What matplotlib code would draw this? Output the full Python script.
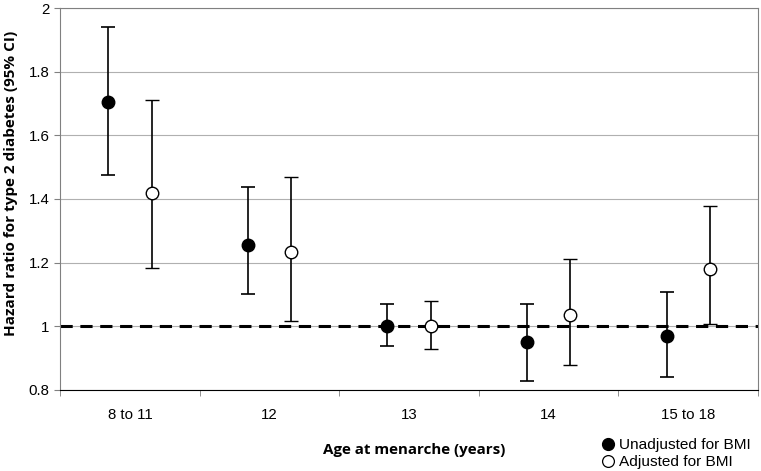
import matplotlib
matplotlib.use("Agg")
import matplotlib.pyplot as plt
from matplotlib.lines import Line2D
import numpy as np

plt.rcParams['font.family'] = ['Liberation Sans', 'DejaVu Sans']

categories = ['8 to 11', '12', '13', '14', '15 to 18']

unadj_hr = [1.705, 1.255, 1.00, 0.952, 0.970]
unadj_lo = [1.475, 1.100, 0.938, 0.828, 0.840]
unadj_hi = [1.940, 1.438, 1.070, 1.070, 1.108]

adj_hr = [1.420, 1.232, 1.00, 1.036, 1.180]
adj_lo = [1.182, 1.018, 0.928, 0.880, 1.008]
adj_hi = [1.710, 1.470, 1.078, 1.210, 1.378]

fig = plt.figure(figsize=(7.61, 4.71), dpi=100)
ax = fig.add_axes([0.079, 0.172, 0.917, 0.811])

x = np.arange(len(categories))
off = 0.155

ax.axhline(1.0, color='black', lw=2.2, ls=(0, (4, 2.5)), zorder=2)

un = np.array(unadj_hr)
ad = np.array(adj_hr)
ax.errorbar(x - off, un, yerr=[un - np.array(unadj_lo), np.array(unadj_hi) - un],
            fmt='o', ms=9, mfc='black', mec='black', ecolor='black',
            elinewidth=1.2, capsize=5, capthick=1.2, zorder=3)
ax.errorbar(x + off, ad, yerr=[ad - np.array(adj_lo), np.array(adj_hi) - ad],
            fmt='o', ms=9, mfc='white', mec='black', mew=1.0, ecolor='black',
            elinewidth=1.2, capsize=5, capthick=1.2, zorder=3)

ax.set_xlim(-0.5, len(categories) - 0.5)
ax.set_ylim(0.8, 2.0)
ax.set_yticks([0.8, 1.0, 1.2, 1.4, 1.6, 1.8, 2.0])
ax.set_yticklabels(['0.8', '1', '1.2', '1.4', '1.6', '1.8', '2'])
ax.yaxis.grid(True, color='#b0b0b0', lw=0.8)
ax.set_axisbelow(True)

ax.set_xticks(x)
ax.set_xticklabels(categories)
ax.set_xticks(np.arange(-0.5, len(categories)), minor=True)
ax.tick_params(axis='x', which='major', length=0, pad=13, labelsize=10.8)
ax.tick_params(axis='x', which='minor', length=4, color='#808080')
ax.tick_params(axis='y', length=4, labelsize=10.8, color='#808080')

for s in ax.spines.values():
    s.set_color('#808080')
ax.spines['bottom'].set_color('black')

ax.set_ylabel('Hazard ratio for type 2 diabetes (95% CI)', fontsize=11,
              fontweight='bold', family=['Open Sans', 'DejaVu Sans'])
ax.yaxis.set_label_coords(-0.06, 0.54)
ax.set_xlabel('Age at menarche (years)', fontsize=10.9, fontweight='bold',
              family=['Open Sans', 'DejaVu Sans'])
ax.xaxis.set_label_coords(0.507, -0.138)

handles = [
    Line2D([], [], ls='', marker='o', ms=8.5, mfc='black', mec='black'),
    Line2D([], [], ls='', marker='o', ms=8.5, mfc='white', mec='black', mew=0.9),
]
ax.legend(handles, ['Unadjusted for BMI', 'Adjusted for BMI'],
          loc='upper left', bbox_to_anchor=(0.765, -0.11), frameon=False,
          fontsize=11.1, handletextpad=0.2, labelspacing=0.2,
          borderaxespad=0, handlelength=1.0)

fig.savefig('out.png', dpi=100)
